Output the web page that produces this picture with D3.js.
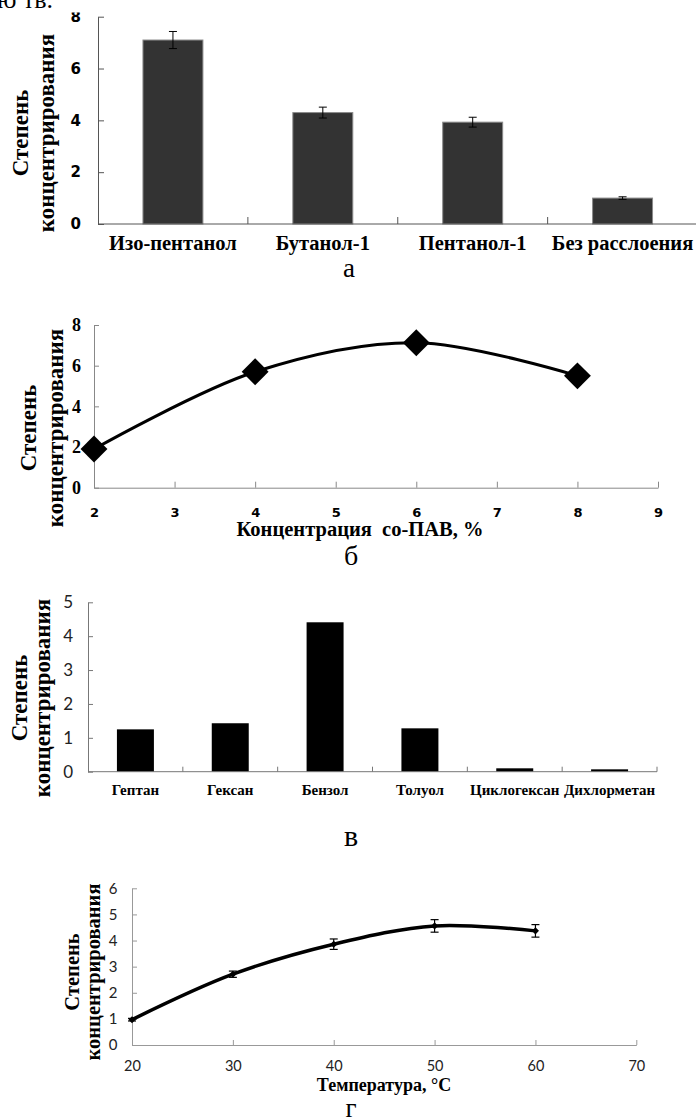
<!DOCTYPE html>
<html><head><meta charset="utf-8">
<script src="https://cdn.jsdelivr.net/npm/d3@7"></script>
<style>
body{margin:0;background:#fff;}
svg{display:block;}
</style></head><body>
<svg id="c" width="696" height="1120"></svg>
<script>
// ---- Chart а ----
const solventsA = ["Изо-пентанол","Бутанол-1","Пентанол-1","Без расслоения"];
const valuesA = [7.1, 4.3, 3.93, 1.0];
const errorsA = [0.33, 0.21, 0.19, 0.05];
const yTicksA = [0,2,4,6,8];
// ---- Chart б ----
const coSurfConc = [2,4,6,8];
const valuesB = [1.9, 5.7, 7.13, 5.5];
const xTicksB = [2,3,4,5,6,7,8,9];
const yTicksB = [0,2,4,6,8];
// ---- Chart в ----
const solventsV = ["Гептан","Гексан","Бензол","Толуол","Циклогексан","Дихлорметан"];
const valuesV = [1.25, 1.43, 4.41, 1.28, 0.1, 0.07];
const yTicksV = [0,1,2,3,4,5];
// ---- Chart г ----
const temps = [20,30,40,50,60];
const valuesG = [0.97, 2.71, 3.86, 4.56, 4.37];
const errorsG = [0.05, 0.12, 0.2, 0.24, 0.24];
const xTicksG = [20,30,40,50,60,70];
const yTicksG = [0,1,2,3,4,5,6];
const yTitle = ["Степень","концентрирования"];

const SERIF = "'Liberation Serif','Times New Roman',serif";
const fmt = d3.format("d");
const svg = d3.select("#c");

function yTitleDraw(cx1, cx2, cy, size){
  [cx1, cx2].forEach((cx,i)=>{
    svg.append("text").attr("transform",`translate(${cx},${cy}) rotate(-90)`)
      .attr("text-anchor","middle").attr("dominant-baseline","central")
      .style("font-family",SERIF).style("font-weight","bold").style("font-size",size+"px")
      .text(yTitle[i]);
  });
}
function styleAxis(g, color, font, weight, size, fill){
  g.select(".domain").attr("stroke",color).attr("stroke-width",1);
  g.selectAll(".tick line").attr("stroke",color);
  g.selectAll(".tick text").style("font-family",font).style("font-weight",weight)
    .style("font-size",size+"px").attr("fill",fill||"#000");
}

// fragment of page text above
svg.append("text").attr("x",-3).attr("y",8.3).style("font-family",SERIF).style("font-size","26px").text("ю тв.");

// ================= Chart а =================
svg.append("defs").append("clipPath").attr("id","clipA").append("rect")
  .attr("x",0).attr("y",12.5).attr("width",696).attr("height",300);
const gA = svg.append("g").attr("clip-path","url(#clipA)");
const xA = d3.scaleBand().domain(solventsA).range([98, 697.5]);
const yA = d3.scaleLinear().domain([0,8]).range([224,16.7]);
const bwA = xA.bandwidth();
gA.selectAll("rect.bar").data(solventsA).join("rect").attr("class","bar")
  .attr("x",d=>xA(d)+bwA*0.3).attr("width",bwA*0.4)
  .attr("y",(d,i)=>yA(valuesA[i])).attr("height",(d,i)=>yA(0)-yA(valuesA[i]))
  .attr("fill","#333").attr("stroke","#8a8a8a").attr("stroke-width",1);
solventsA.forEach((d,i)=>{
  const cx = xA(d)+bwA/2, y1 = yA(valuesA[i]+errorsA[i]), y2 = yA(valuesA[i]-errorsA[i]);
  gA.append("line").attr("x1",cx).attr("x2",cx).attr("y1",y1).attr("y2",y2).attr("stroke","#000");
  [y1,y2].forEach(y=>gA.append("line").attr("x1",cx-4).attr("x2",cx+4).attr("y1",y).attr("y2",y).attr("stroke","#000"));
});
const axYA = gA.append("g").attr("transform","translate(98,0)")
  .call(d3.axisLeft(yA).tickValues(yTicksA).tickFormat(fmt).tickSizeInner(-6).tickSizeOuter(0).tickPadding(17));
styleAxis(axYA,"#555","'DejaVu Sans',sans-serif","bold",15);
gA.append("line").attr("x1",98).attr("x2",696).attr("y1",yA(0)).attr("y2",yA(0)).attr("stroke","#555");
solventsA.slice(1).forEach(d=>{
  gA.append("line").attr("x1",xA(d)).attr("x2",xA(d)).attr("y1",yA(0)).attr("y2",yA(0)-7).attr("stroke","#555");
});
gA.selectAll("text.catA").data(solventsA).join("text").attr("class","catA")
  .attr("x",d=>xA(d)+bwA/2).attr("y",250).attr("text-anchor","middle")
  .style("font-family",SERIF).style("font-weight","bold").style("font-size","20.5px").text(d=>d);
yTitleDraw(20,46,133,23);
svg.append("text").attr("x",349).attr("y",277).attr("text-anchor","middle")
  .style("font-family",SERIF).style("font-size","27px").text("а");

// ================= Chart б =================
const xB = d3.scaleLinear().domain([2,9]).range([94,658]);
const yB = d3.scaleLinear().domain([0,8]).range([487.7,325]);
const axYB = svg.append("g").attr("transform","translate(94,0)")
  .call(d3.axisLeft(yB).tickValues(yTicksB).tickFormat(fmt).tickSizeInner(-5).tickSizeOuter(0).tickPadding(13));
styleAxis(axYB,"#888",SERIF,"bold",18);
const axXB = svg.append("g").attr("transform",`translate(0,${yB(0)})`)
  .call(d3.axisBottom(xB).tickValues(xTicksB).tickFormat(fmt).tickSizeInner(-6).tickSizeOuter(0).tickPadding(20));
styleAxis(axXB,"#888","'DejaVu Sans',sans-serif","bold",13);
const lineB = d3.line().x((d,i)=>xB(coSurfConc[i])).y(d=>yB(d)).curve(d3.curveCatmullRom.alpha(0.5));
svg.append("path").attr("d",lineB(valuesB)).attr("fill","none").attr("stroke","#000").attr("stroke-width",3);
svg.selectAll("rect.dmB").data(valuesB).join("rect").attr("class","dmB")
  .attr("x",-9.5).attr("y",-9.5).attr("width",19).attr("height",19).attr("fill","#000")
  .attr("transform",(d,i)=>`translate(${xB(coSurfConc[i])},${yB(d)}) rotate(45)`);
svg.append("text").attr("x",360).attr("y",536).attr("text-anchor","middle")
  .style("font-family",SERIF).style("font-weight","bold").style("font-size","20.5px").text("Концентрация\u00a0 со-ПАВ, %");
yTitleDraw(28,55,428,23);
svg.append("text").attr("x",351).attr("y",565).attr("text-anchor","middle")
  .style("font-family",SERIF).style("font-size","28px").text("б");

// ================= Chart в =================
const xV = d3.scaleBand().domain(solventsV).range([88,657]);
const yV = d3.scaleLinear().domain([0,5]).range([771.7,602.3]);
const bwV = xV.bandwidth();
svg.selectAll("rect.barV").data(solventsV).join("rect").attr("class","barV")
  .attr("x",d=>xV(d)+bwV*0.305).attr("width",bwV*0.39)
  .attr("y",(d,i)=>yV(valuesV[i])).attr("height",(d,i)=>yV(0)-yV(valuesV[i])).attr("fill","#000");
const axYV = svg.append("g").attr("transform","translate(88,0)")
  .call(d3.axisLeft(yV).tickValues(yTicksV).tickFormat(fmt).tickSizeInner(-5).tickSizeOuter(0).tickPadding(15));
styleAxis(axYV,"#777","Lato,'Open Sans',sans-serif","normal",17,"#222");
svg.append("line").attr("x1",88).attr("x2",657).attr("y1",yV(0)).attr("y2",yV(0)).attr("stroke","#777");
solventsV.slice(1).map(d=>xV(d)).concat([xV.range()[1]]).forEach(x=>{
  svg.append("line").attr("x1",x).attr("x2",x).attr("y1",yV(0)).attr("y2",yV(0)-5).attr("stroke","#777");
});
svg.selectAll("text.catV").data(solventsV).join("text").attr("class","catV")
  .attr("x",d=>xV(d)+bwV/2).attr("y",795).attr("text-anchor","middle")
  .style("font-family",SERIF).style("font-weight","bold").style("font-size","15px").text(d=>d);
yTitleDraw(19,42,698,23);
svg.append("text").attr("x",351).attr("y",846).attr("text-anchor","middle")
  .style("font-family",SERIF).style("font-size","30px").text("в");

// ================= Chart г =================
const xG = d3.scaleLinear().domain([20,70]).range([132,636.3]);
const yG = d3.scaleLinear().domain([0,6]).range([1045,888.3]);
const axYG = svg.append("g").attr("transform","translate(132,0)")
  .call(d3.axisLeft(yG).tickValues(yTicksG).tickFormat(fmt).tickSizeInner(-5).tickSizeOuter(0).tickPadding(14.5));
styleAxis(axYG,"#999","Lato,'Open Sans',sans-serif","normal",15,"#222");
const axXG = svg.append("g").attr("transform",`translate(0,${yG(0)})`)
  .call(d3.axisBottom(xG).tickValues(xTicksG).tickFormat(fmt).tickSizeInner(-5).tickSizeOuter(0).tickPadding(16));
styleAxis(axXG,"#999","Lato,'Open Sans',sans-serif","normal",14.5,"#222");
const lineG = d3.line().x((d,i)=>xG(temps[i])).y(d=>yG(d)).curve(d3.curveCatmullRom.alpha(0.5));
svg.append("path").attr("d",lineG(valuesG)).attr("fill","none").attr("stroke","#000").attr("stroke-width",3.5);
valuesG.forEach((v,i)=>{
  const cx = xG(temps[i]), y1 = yG(v+errorsG[i]), y2 = yG(v-errorsG[i]);
  svg.append("line").attr("x1",cx).attr("x2",cx).attr("y1",y1).attr("y2",y2).attr("stroke","#000").attr("stroke-width",1.2);
  [y1,y2].forEach(y=>svg.append("line").attr("x1",cx-4).attr("x2",cx+4).attr("y1",y).attr("y2",y).attr("stroke","#000").attr("stroke-width",1.2));
});
svg.selectAll("rect.dmG").data(valuesG).join("rect").attr("class","dmG")
  .attr("x",-2.5).attr("y",-2.5).attr("width",5).attr("height",5).attr("fill","#000")
  .attr("transform",(d,i)=>`translate(${xG(temps[i])},${yG(d)}) rotate(45)`);
svg.append("text").attr("x",384).attr("y",1091).attr("text-anchor","middle")
  .style("font-family",SERIF).style("font-weight","bold").style("font-size","18px").text("Температура, °C");
yTitleDraw(72,93,972,20.5);
svg.append("text").attr("x",351).attr("y",1117).attr("text-anchor","middle")
  .style("font-family",SERIF).style("font-size","27px").text("г");
</script>
</body></html>
